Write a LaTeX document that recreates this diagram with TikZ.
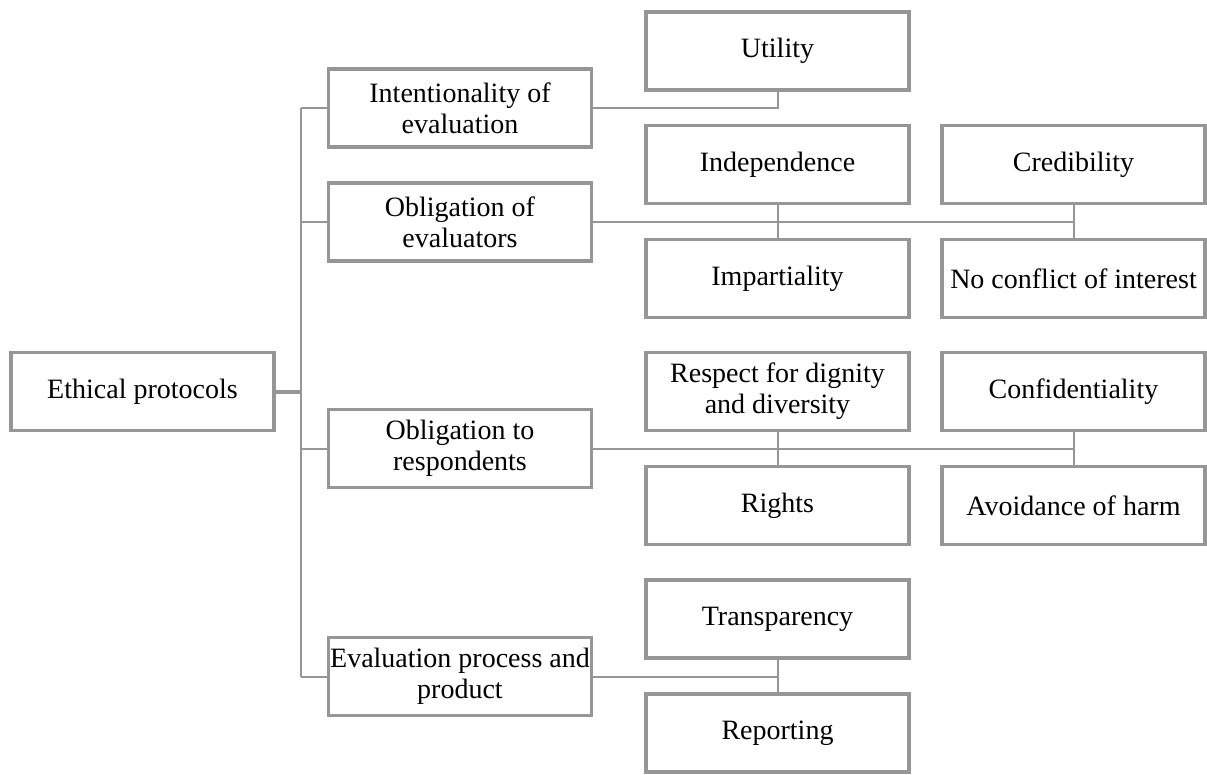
\documentclass[tikz,border=0pt]{standalone}
\usepackage{fontspec}
\setmainfont{Liberation Serif}
\definecolor{linegray}{RGB}{150,150,150}
\begin{document}
\begin{tikzpicture}[x=1pt,y=-1pt,
  box/.style={draw=linegray, line width=3.5pt, minimum width=263pt, minimum height=78pt,
    inner sep=0pt, align=center, font=\fontsize{28}{31}\selectfont},
  link/.style={draw=linegray, line width=2pt},
  rootlink/.style={draw=linegray, line width=4pt}]
\useasboundingbox (0,0) rectangle (1207,774);

% root
\node[box] (ethic) at (142.5,391.5) {Ethical protocols};

% second level
\node[box] (intent)  at (460,108)   {Intentionality of\\evaluation};
\node[box] (evals)   at (460,222)   {Obligation of\\evaluators};
\node[box] (resp)    at (460,448.5) {Obligation to\\respondents};
\node[box] (process) at (460,676.5) {Evaluation process and\\product};

% third level, first column
\node[box] (utility) at (777.5,51)    {Utility};
\node[box] (indep)   at (777.5,164.5) {Independence};
\node[box] (impart)  at (777.5,278.5) {Impartiality};
\node[box] (respect) at (777.5,391.5) {Respect for dignity\\and diversity};
\node[box] (rights)  at (777.5,505.5) {Rights};
\node[box] (transp)  at (777.5,619)   {Transparency};
\node[box] (report)  at (777.5,733)   {Reporting};

% third level, second column
\node[box] (credib)  at (1073.5,164.5) {Credibility};
\node[box] (noconf)  at (1073.5,278.5) {No conflict of interest};
\node[box] (confid)  at (1073.5,391.5) {Confidentiality};
\node[box] (harm)    at (1073.5,505.5) {Avoidance of harm};

% trunk from the root to the second level
\coordinate (tTop) at (301,108);
\coordinate (tBot) at (301,676.5);
\draw[link] (tTop) -- (tBot);
\draw[rootlink] (ethic.east) -- (ethic.east -| tTop);
\draw[link] (intent.west) -- (intent.west -| tTop);
\draw[link] (evals.west) -- (evals.west -| tTop);
\draw[link] (resp.west) -- (resp.west -| tTop);
\draw[link] (process.west) -- (process.west -| tTop);

% second level to third level
\draw[link] (intent.east) -| (utility.south);

\draw[link] (evals.east) -- (evals.east -| credib.south);
\draw[link] (indep.south) -- (impart.north);
\draw[link] (credib.south) -- (noconf.north);

\draw[link] (resp.east) -- (resp.east -| confid.south);
\draw[link] (respect.south) -- (rights.north);
\draw[link] (confid.south) -- (harm.north);

\draw[link] (process.east) -- (process.east -| transp.south);
\draw[link] (transp.south) -- (report.north);
\end{tikzpicture}
\end{document}
